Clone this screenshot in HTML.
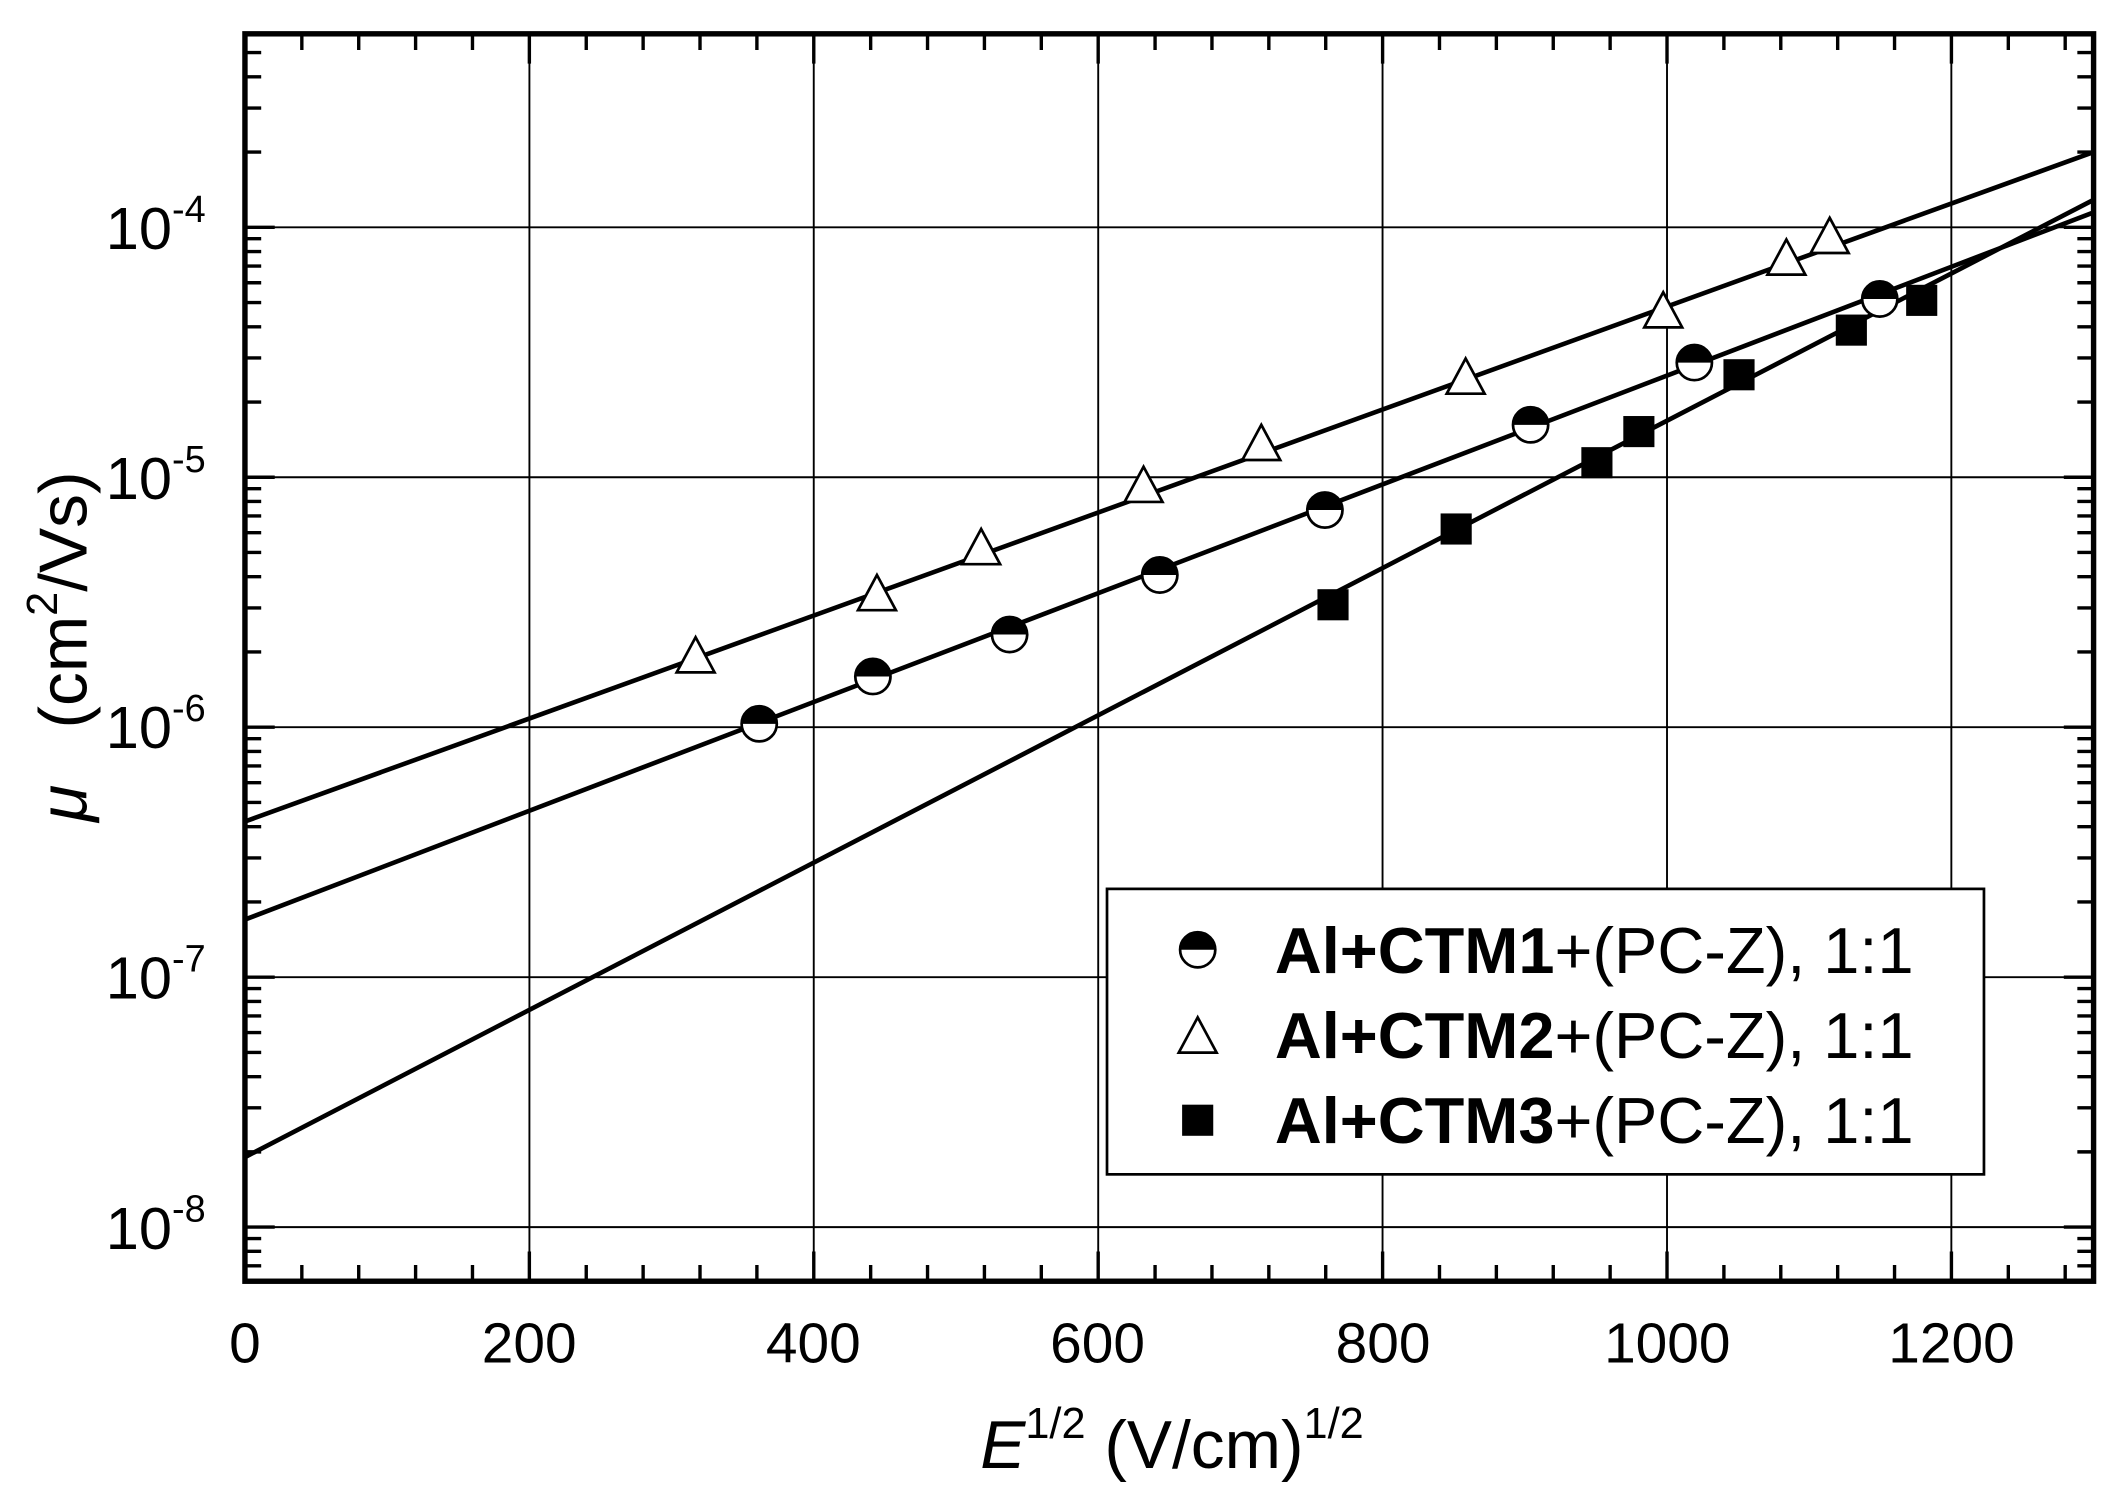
<!DOCTYPE html>
<html><head><meta charset="utf-8"><style>html,body{margin:0;padding:0;background:#fff}svg{display:block}</style></head><body>
<svg width="2122" height="1495" viewBox="0 0 1568 1105" preserveAspectRatio="none" xmlns="http://www.w3.org/2000/svg" font-family="Liberation Sans, Arial, sans-serif">
<defs>
<clipPath id="pc"><rect x="181" y="25" width="1366" height="922"/></clipPath>
<g id="circ"><circle r="13" fill="#fff" stroke="#000" stroke-width="2"/><path d="M-13,0 A13,13 0 0 1 13,0 Z" fill="#000"/></g>
<path id="tri" d="M0,-15 L14,11 L-14,11 Z" fill="#fff" stroke="#000" stroke-width="2"/>
<rect id="sq" x="-11.5" y="-11.5" width="23" height="23" fill="#000"/>
</defs>
<g stroke="#000" stroke-width="1.4" fill="none">
<path d="M391.2,25V947M601.3,25V947M811.5,25V947M1021.6,25V947M1231.8,25V947M1441.9,25V947"/>
<path d="M181,168H1547M181,352.75H1547M181,537.5H1547M181,722.25H1547M181,907H1547"/>
</g>
<g stroke="#000" stroke-width="2.5" id="ticks"></g>
<script>
(function(){var g=document.getElementById('ticks'),s='';
for(var v=0;v<=1300;v+=40){var x=181+v*1.0508;var L=(v%200==0)?22:12;s+='M'+x+',947v-'+L+'M'+x+',25v'+L;}
for(var d=-9;d<=-3;d++){for(var m=1;m<=9;m++){var lg=d+Math.log10(m);var y=168-184.75*(lg+4);if(y<25||y>947)continue;var L=(m==1)?22:12;s+='M181,'+y+'h'+L+'M1547,'+y+'h-'+L;}}
var p=document.createElementNS('http://www.w3.org/2000/svg','path');p.setAttribute('d',s);p.setAttribute('fill','none');g.appendChild(p);})();
</script>
<g clip-path="url(#pc)" stroke="#000" stroke-width="3.4" fill="none">
<line x1="181" y1="607.2" x2="1547" y2="112.4"/>
<line x1="181" y1="679.7" x2="1547" y2="157"/>
<line x1="181" y1="855.3" x2="1547" y2="147.7"/>
</g>
<g>
<use href="#circ" x="561" y="535"/><use href="#circ" x="645" y="500"/><use href="#circ" x="746" y="469"/><use href="#circ" x="857" y="425"/><use href="#circ" x="979" y="377"/><use href="#circ" x="1131" y="314"/><use href="#circ" x="1252" y="268"/><use href="#circ" x="1389" y="221"/>
<use href="#tri" x="514" y="486"/><use href="#tri" x="648" y="440"/><use href="#tri" x="725" y="406"/><use href="#tri" x="845" y="360"/><use href="#tri" x="932" y="329"/><use href="#tri" x="1083" y="280"/><use href="#tri" x="1229" y="231"/><use href="#tri" x="1320" y="192"/><use href="#tri" x="1352" y="176"/>
<use href="#sq" x="985" y="447"/><use href="#sq" x="1076" y="391"/><use href="#sq" x="1180" y="342"/><use href="#sq" x="1211" y="319"/><use href="#sq" x="1285" y="277"/><use href="#sq" x="1368" y="244"/><use href="#sq" x="1420" y="222"/>
</g>
<rect x="181" y="25" width="1366" height="922" fill="none" stroke="#000" stroke-width="4"/>
<rect x="818" y="657" width="648" height="211" fill="#fff" stroke="#000" stroke-width="2"/>
<use href="#circ" x="885" y="702"/><use href="#tri" x="885" y="767"/><use href="#sq" x="885" y="828"/>
<g font-size="48" fill="#000">
<text x="942" y="719"><tspan font-weight="bold">Al+CTM1</tspan>+(PC-Z), 1:1</text>
<text x="942" y="782"><tspan font-weight="bold">Al+CTM2</tspan>+(PC-Z), 1:1</text>
<text x="942" y="845"><tspan font-weight="bold">Al+CTM3</tspan>+(PC-Z), 1:1</text>
</g>
<g font-size="42" text-anchor="middle">
<text x="181" y="1007">0</text><text x="391" y="1007">200</text><text x="601" y="1007">400</text><text x="811" y="1007">600</text><text x="1022" y="1007">800</text><text x="1232" y="1007">1000</text><text x="1442" y="1007">1200</text>
</g>
<g font-size="44" text-anchor="end">
<text x="152" y="184">10<tspan font-size="28" dy="-20">-4</tspan></text>
<text x="152" y="369">10<tspan font-size="28" dy="-20">-5</tspan></text>
<text x="152" y="553">10<tspan font-size="28" dy="-20">-6</tspan></text>
<text x="152" y="738">10<tspan font-size="28" dy="-20">-7</tspan></text>
<text x="152" y="923">10<tspan font-size="28" dy="-20">-8</tspan></text>
</g>
<text x="866" y="1085" font-size="50" text-anchor="middle"><tspan font-style="italic">E</tspan><tspan font-size="32" dy="-22">1/2</tspan><tspan dy="22"> (V/cm)</tspan><tspan font-size="32" dy="-22">1/2</tspan></text>
<text transform="translate(64,478) rotate(-90)" font-size="50" text-anchor="middle"><tspan font-style="italic">μ</tspan><tspan xml:space="preserve">   (cm</tspan><tspan font-size="32" dy="-22">2</tspan><tspan dy="22">/Vs)</tspan></text>
</svg>
</body></html>
